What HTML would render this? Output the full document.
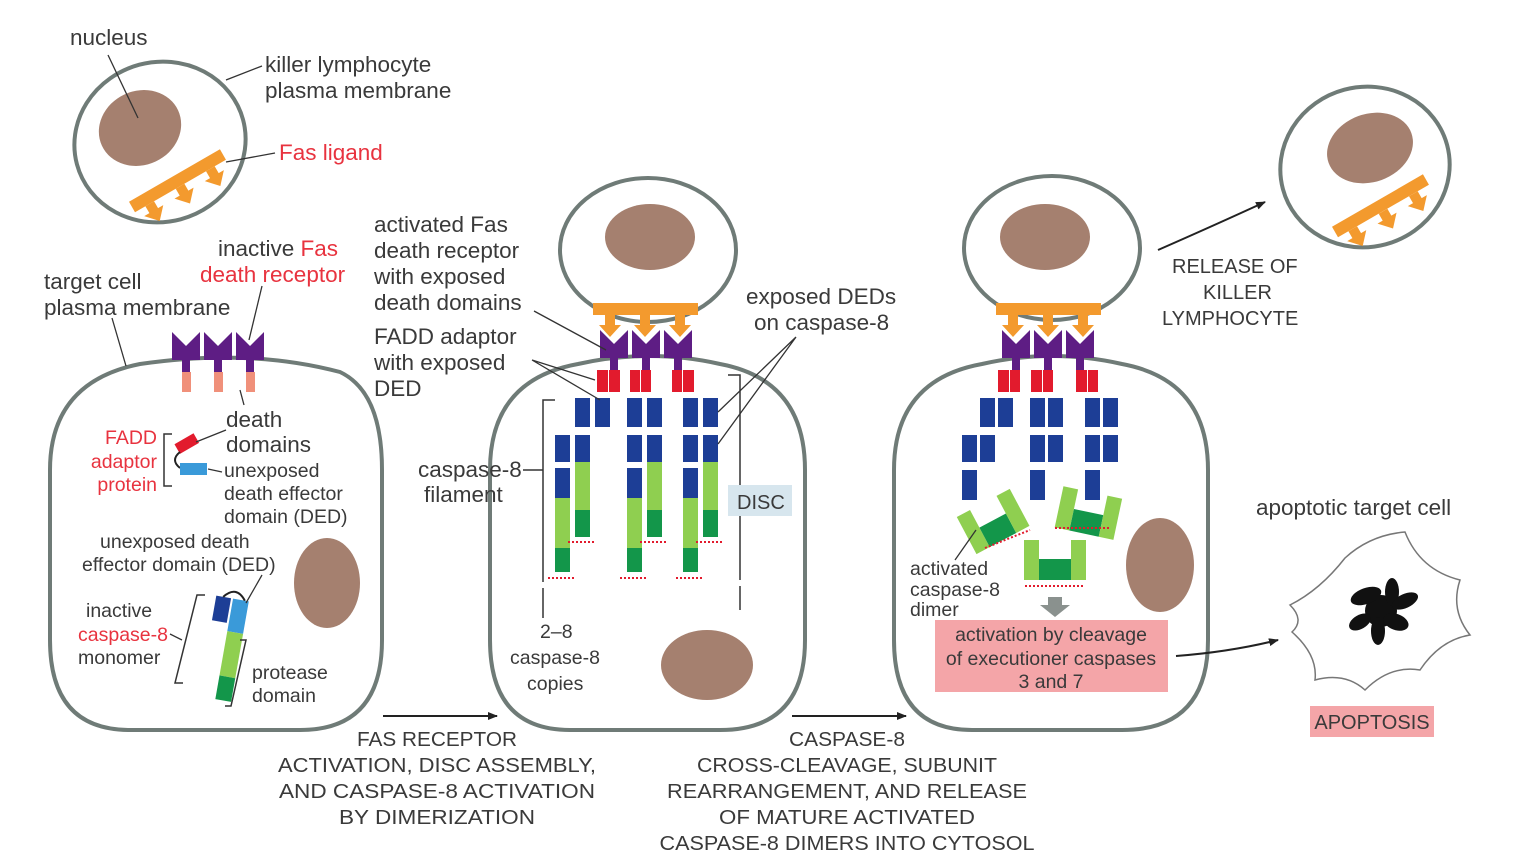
<!DOCTYPE html>
<html><head><meta charset="utf-8"><style>
html,body{margin:0;padding:0;background:#fff}
svg{display:block}
text{font-family:"Liberation Sans",sans-serif;fill:#3a3a3a}
.r{fill:#e8333f}
.s{font-size:19.5px}
.m{font-size:22.5px}
.u{font-size:20px}
</style></head><body>
<svg width="1530" height="860" viewBox="0 0 1530 860" xmlns="http://www.w3.org/2000/svg">
<defs>
<marker id="ah" markerWidth="10" markerHeight="8" refX="9" refY="4" orient="auto" markerUnits="userSpaceOnUse"><path d="M0,0 L10,4 L0,8 z" fill="#222"/></marker>
<g id="ligdown"><rect x="0" y="0" width="105" height="12" fill="#f39a2e"/>
<path d="M12,12 h10 v10 h6 l-11,12 l-11,-12 h6 z M47,12 h10 v10 h6 l-11,12 l-11,-12 h6 z M82,12 h10 v10 h6 l-11,12 l-11,-12 h6 z" fill="#f39a2e"/></g>
<g id="rec"><path d="M0,0 L14,14 L28,0 L28,28 L18,28 L18,40 L10,40 L10,28 L0,28 z" fill="#5e1d84"/></g>
</defs>

<g fill="#fff" stroke="#6f7b77" stroke-width="4">
<path d="M140,364 Q250,348 340,372 Q382,392 382,470 L382,640 Q382,730 300,730 L130,730 Q50,730 50,640 L50,470 Q50,382 140,364 z"/>
<ellipse cx="160" cy="142" rx="86" ry="80" transform="rotate(-15 160 142)"/>
<ellipse cx="1365" cy="167" rx="85" ry="80" transform="rotate(-15 1365 167)"/>
<ellipse cx="648" cy="250" rx="88" ry="72"/>
<ellipse cx="1052" cy="248" rx="88" ry="72"/>
<path d="M578,364 Q650,348 720,364 Q805,380 805,470 L805,640 Q805,730 720,730 L570,730 Q490,730 490,640 L490,470 Q490,380 578,364 z"/>
<path d="M982,364 Q1052,348 1122,364 Q1208,380 1208,470 L1208,640 Q1208,730 1122,730 L972,730 Q894,730 894,640 L894,470 Q894,380 982,364 z"/>
</g>

<g fill="#a5806f">
<ellipse cx="140" cy="128" rx="42" ry="37" transform="rotate(-25 140 128)"/>
<ellipse cx="1370" cy="148" rx="44" ry="34" transform="rotate(-20 1370 148)"/>
<ellipse cx="650" cy="237" rx="45" ry="33"/>
<ellipse cx="1045" cy="237" rx="45" ry="33"/>
<ellipse cx="327" cy="583" rx="33" ry="45"/>
<ellipse cx="707" cy="665" rx="46" ry="35"/>
<ellipse cx="1160" cy="565" rx="34" ry="47"/>
</g>

<g transform="translate(132,207) rotate(-30)"><rect x="0" y="-6" width="105" height="12" fill="#f39a2e"/><path d="M12,6 h10 v8 h6 l-11,12 l-11,-12 h6 z M47,6 h10 v8 h6 l-11,12 l-11,-12 h6 z M82,6 h10 v8 h6 l-11,12 l-11,-12 h6 z" fill="#f39a2e"/></g>
<g transform="translate(1335,232) rotate(-30)"><rect x="0" y="-6" width="105" height="12" fill="#f39a2e"/><path d="M12,6 h10 v8 h6 l-11,12 l-11,-12 h6 z M47,6 h10 v8 h6 l-11,12 l-11,-12 h6 z M82,6 h10 v8 h6 l-11,12 l-11,-12 h6 z" fill="#f39a2e"/></g>

<use href="#rec" x="172" y="332"/><use href="#rec" x="204" y="332"/><use href="#rec" x="236" y="332"/>
<g fill="#f0907a"><rect x="182" y="372" width="9" height="20"/><rect x="214" y="372" width="9" height="20"/><rect x="246" y="372" width="9" height="20"/></g>
<rect x="176" y="438" width="22" height="11" fill="#e21b2d" transform="rotate(-30 187 444)"/>
<path d="M180,452 q-10,8 0,16" fill="none" stroke="#222" stroke-width="2"/>
<rect x="180" y="463" width="27" height="12" fill="#3a9ad9"/>
<path d="M172,434 h-8 v52 h8" fill="none" stroke="#333" stroke-width="1.5"/>
<g transform="rotate(10 225 650)">
<rect x="207" y="598" width="15" height="25" fill="#1d3e96"/>
<rect x="224" y="598" width="16" height="33" fill="#3a9ad9"/>
<rect x="224" y="631" width="16" height="45" fill="#8fcf50"/>
<rect x="224" y="676" width="16" height="24" fill="#13964a"/>
<path d="M214,598 q11,-14 22,0" fill="none" stroke="#222" stroke-width="2"/>
</g>
<path d="M205,595 h-8 l-22,88 h8" fill="none" stroke="#333" stroke-width="1.5"/>
<path d="M240,640 h6 l-15,66 h-6" fill="none" stroke="#333" stroke-width="1.5"/>

<use href="#ligdown" x="593" y="303"/>
<use href="#rec" x="600" y="330"/><use href="#rec" x="632" y="330"/><use href="#rec" x="664" y="330"/>
<g fill="#e21b2d"><rect x="597" y="370" width="11" height="22"/><rect x="609" y="370" width="11" height="22"/><rect x="630" y="370" width="10" height="22"/><rect x="641" y="370" width="10" height="22"/><rect x="672" y="370" width="10" height="22"/><rect x="683" y="370" width="11" height="22"/></g>
<g fill="#1d3e96">
<rect x="575" y="398" width="15" height="29"/><rect x="595" y="398" width="15" height="29"/>
<rect x="555" y="435" width="15" height="27"/><rect x="555" y="468" width="15" height="30"/><rect x="575" y="435" width="15" height="27"/>
<rect x="627" y="398" width="15" height="29"/><rect x="647" y="398" width="15" height="29"/>
<rect x="627" y="435" width="15" height="27"/><rect x="627" y="468" width="15" height="30"/><rect x="647" y="435" width="15" height="27"/>
<rect x="683" y="398" width="15" height="29"/><rect x="703" y="398" width="15" height="29"/>
<rect x="683" y="435" width="15" height="27"/><rect x="683" y="468" width="15" height="30"/><rect x="703" y="435" width="15" height="27"/>
</g>
<g fill="#8fcf50"><rect x="555" y="498" width="15" height="50"/><rect x="575" y="462" width="15" height="48"/><rect x="627" y="498" width="15" height="50"/><rect x="647" y="462" width="15" height="48"/><rect x="683" y="498" width="15" height="50"/><rect x="703" y="462" width="15" height="48"/></g>
<g fill="#13964a"><rect x="555" y="548" width="15" height="24"/><rect x="575" y="510" width="15" height="27"/><rect x="627" y="548" width="15" height="24"/><rect x="647" y="510" width="15" height="27"/><rect x="683" y="548" width="15" height="24"/><rect x="703" y="510" width="15" height="27"/></g>
<g stroke="#e21b2d" stroke-width="2" stroke-dasharray="2,2">
<path d="M548,578 h28 M568,542 h28 M620,578 h28 M640,542 h28 M676,578 h28 M696,542 h28"/></g>
<g stroke="#333" stroke-width="1.5" fill="none">
<path d="M555,400 h-12 v182 M543,588 v30"/><path d="M728,375 h12 v205 M740,586 v24"/>
<path d="M523,470 h20"/>
</g>
<rect x="728" y="485" width="64" height="31" fill="#d7e6ee"/>
<text x="737" y="509" class="u">DISC</text>

<use href="#ligdown" x="996" y="303"/>
<use href="#rec" x="1002" y="330"/><use href="#rec" x="1034" y="330"/><use href="#rec" x="1066" y="330"/>
<g fill="#e21b2d"><rect x="998" y="370" width="11" height="22"/><rect x="1010" y="370" width="10" height="22"/><rect x="1031" y="370" width="11" height="22"/><rect x="1043" y="370" width="10" height="22"/><rect x="1076" y="370" width="11" height="22"/><rect x="1088" y="370" width="10" height="22"/></g>
<g fill="#1d3e96">
<rect x="980" y="398" width="15" height="29"/><rect x="998" y="398" width="15" height="29"/>
<rect x="962" y="435" width="15" height="27"/><rect x="980" y="435" width="15" height="27"/><rect x="962" y="470" width="15" height="30"/>
<rect x="1030" y="398" width="15" height="29"/><rect x="1048" y="398" width="15" height="29"/>
<rect x="1030" y="435" width="15" height="27"/><rect x="1048" y="435" width="15" height="27"/><rect x="1030" y="470" width="15" height="30"/>
<rect x="1085" y="398" width="15" height="29"/><rect x="1103" y="398" width="15" height="29"/>
<rect x="1085" y="435" width="15" height="27"/><rect x="1103" y="435" width="15" height="27"/><rect x="1085" y="470" width="15" height="30"/>
</g>
<g transform="rotate(-28 995 525)">
<rect x="965" y="500" width="15" height="42" fill="#8fcf50"/><rect x="980" y="520" width="30" height="22" fill="#13964a"/><rect x="1010" y="500" width="15" height="42" fill="#8fcf50"/></g>
<g transform="rotate(12 1088 515)">
<rect x="1058" y="492" width="15" height="42" fill="#8fcf50"/><rect x="1073" y="512" width="30" height="22" fill="#13964a"/><rect x="1103" y="492" width="15" height="42" fill="#8fcf50"/></g>
<rect x="1024" y="540" width="15" height="40" fill="#8fcf50"/><rect x="1039" y="559" width="32" height="21" fill="#13964a"/><rect x="1071" y="540" width="15" height="40" fill="#8fcf50"/>
<g stroke="#e21b2d" stroke-width="2" stroke-dasharray="2,2"><path d="M985,548 l45,-18 M1055,528 h55 M1025,586 h60"/></g>
<path d="M1048,597 h14 v8 h8 l-15,12 l-15,-12 h8 z" fill="#8a918e"/>
<rect x="935" y="620" width="233" height="72" fill="#f4a5a8"/>
<text class="s" x="1051" y="641" text-anchor="middle">activation by cleavage</text>
<text class="s" x="1051" y="665" text-anchor="middle">of executioner caspases</text>
<text class="s" x="1051" y="688" text-anchor="middle">3 and 7</text>

<path d="M1290,605 Q1320,590 1345,558 Q1370,535 1405,532 Q1420,570 1460,580 Q1450,610 1470,635 Q1440,640 1420,670 Q1390,665 1365,690 Q1345,672 1315,680 Q1318,655 1292,632 Q1305,620 1290,605 z" fill="#fff" stroke="#777" stroke-width="1.5"/>
<g fill="#111">
<circle cx="1381" cy="611" r="16"/>
<ellipse cx="1366" cy="596" rx="16" ry="8" transform="rotate(-20 1366 596)"/>
<ellipse cx="1392" cy="592" rx="7" ry="14"/>
<ellipse cx="1405" cy="601" rx="14" ry="7" transform="rotate(-25 1405 601)"/>
<ellipse cx="1396" cy="622" rx="13" ry="8" transform="rotate(20 1396 622)"/>
<ellipse cx="1378" cy="631" rx="7" ry="14"/>
<ellipse cx="1360" cy="622" rx="12" ry="7" transform="rotate(-30 1360 622)"/>
</g>
<rect x="1310" y="706" width="124" height="31" fill="#f4a5a8"/>
<text x="1372" y="729" class="u" text-anchor="middle">APOPTOSIS</text>

<g stroke="#222" stroke-width="2" fill="none">
<path d="M383,716 H497" marker-end="url(#ah)"/>
<path d="M792,716 H906" marker-end="url(#ah)"/>
<path d="M1158,250 Q1215,225 1265,202" marker-end="url(#ah)"/>
<path d="M1176,656 Q1230,652 1278,640" marker-end="url(#ah)"/>
</g>

<g stroke="#333" stroke-width="1.3" fill="none">
<path d="M108,55 L138,118"/><path d="M262,66 L226,80"/><path d="M275,153 L226,162"/>
<path d="M112,318 L126,366"/><path d="M262,286 L249,340"/>
<path d="M244,405 L240,390"/><path d="M226,430 L196,442"/><path d="M222,472 L208,469"/>
<path d="M262,575 L246,603"/><path d="M170,634 L182,640"/>
<path d="M534,311 L606,350"/><path d="M532,360 L595,380 M532,360 L600,400"/>
<path d="M796,337 L718,412 M796,337 L718,444"/>
<path d="M976,530 L955,560"/>
</g>

<text x="70" y="45" class="m">nucleus</text>
<text x="265" y="72" class="m">killer lymphocyte</text>
<text x="265" y="98" class="m">plasma membrane</text>
<text x="279" y="160" class="m r">Fas ligand</text>
<text x="218" y="256" class="m">inactive <tspan class="r">Fas</tspan></text>
<text x="200" y="282" class="m r">death receptor</text>
<text x="44" y="289" class="m">target cell</text>
<text x="44" y="315" class="m">plasma membrane</text>
<text x="374" y="232" class="m">activated Fas</text>
<text x="374" y="258" class="m">death receptor</text>
<text x="374" y="284" class="m">with exposed</text>
<text x="374" y="310" class="m">death domains</text>
<text x="374" y="344" class="m">FADD adaptor</text>
<text x="374" y="370" class="m">with exposed</text>
<text x="374" y="396" class="m">DED</text>
<text x="746" y="304" class="m">exposed DEDs</text>
<text x="754" y="330" class="m">on caspase-8</text>
<text x="226" y="427" class="m">death</text>
<text x="226" y="452" class="m">domains</text>
<text x="418" y="477" class="m">caspase-8</text>
<text x="424" y="502" class="m">filament</text>
<text x="540" y="638" class="s">2–8</text>
<text x="510" y="664" class="s">caspase-8</text>
<text x="527" y="690" class="s">copies</text>
<text x="1172" y="273" class="u">RELEASE OF</text>
<text x="1203" y="299" class="u">KILLER</text>
<text x="1162" y="325" class="u">LYMPHOCYTE</text>
<text x="1256" y="515" class="m">apoptotic target cell</text>
<text x="157" y="444" class="s r" text-anchor="end">FADD</text>
<text x="157" y="468" class="s r" text-anchor="end">adaptor</text>
<text x="157" y="491" class="s r" text-anchor="end">protein</text>
<text x="224" y="477" class="s">unexposed</text>
<text x="224" y="500" class="s">death effector</text>
<text x="224" y="523" class="s">domain (DED)</text>
<text x="100" y="548" class="s">unexposed death</text>
<text x="82" y="571" class="s">effector domain (DED)</text>
<text x="86" y="617" class="s">inactive</text>
<text x="78" y="641" class="s r">caspase-8</text>
<text x="78" y="664" class="s">monomer</text>
<text x="252" y="679" class="s">protease</text>
<text x="252" y="702" class="s">domain</text>
<text x="910" y="575" class="s">activated</text>
<text x="910" y="596" class="s">caspase-8</text>
<text x="910" y="616" class="s">dimer</text>

<g class="u" text-anchor="middle">
<text x="437" y="746" textLength="160" lengthAdjust="spacingAndGlyphs">FAS RECEPTOR</text>
<text x="437" y="772" textLength="318" lengthAdjust="spacingAndGlyphs">ACTIVATION, DISC ASSEMBLY,</text>
<text x="437" y="798" textLength="316" lengthAdjust="spacingAndGlyphs">AND CASPASE-8 ACTIVATION</text>
<text x="437" y="824" textLength="196" lengthAdjust="spacingAndGlyphs">BY DIMERIZATION</text>
<text x="847" y="746" textLength="116" lengthAdjust="spacingAndGlyphs">CASPASE-8</text>
<text x="847" y="772" textLength="300" lengthAdjust="spacingAndGlyphs">CROSS-CLEAVAGE, SUBUNIT</text>
<text x="847" y="798" textLength="360" lengthAdjust="spacingAndGlyphs">REARRANGEMENT, AND RELEASE</text>
<text x="847" y="824" textLength="256" lengthAdjust="spacingAndGlyphs">OF MATURE ACTIVATED</text>
<text x="847" y="850" textLength="375" lengthAdjust="spacingAndGlyphs">CASPASE-8 DIMERS INTO CYTOSOL</text>
</g>
</svg>
</body></html>
